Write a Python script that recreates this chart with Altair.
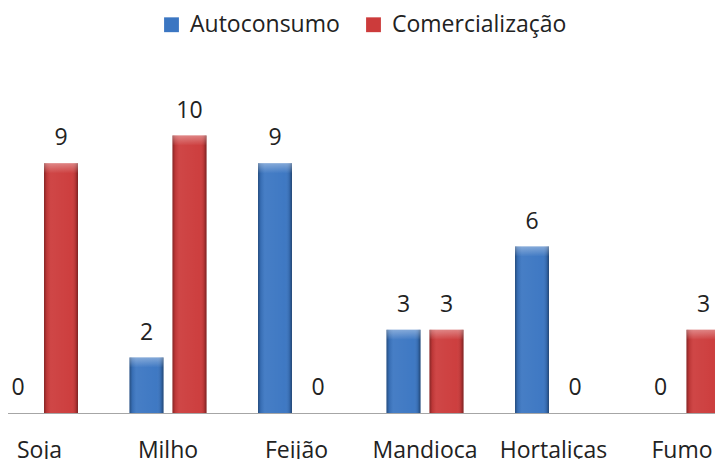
import altair as alt
import pandas as pd

categorias = ["Soja", "Milho", "Feijão", "Mandioca", "Hortaliças", "Fumo"]
series = ["Autoconsumo", "Comercialização"]
autoconsumo = [0, 2, 9, 3, 6, 0]
comercializacao = [9, 10, 0, 3, 0, 3]
cores = ["#3b76c2", "#cc3b3b"]

rows = []
for c, a, m in zip(categorias, autoconsumo, comercializacao):
    rows.append({"cat": c, "serie": series[0], "valor": a})
    rows.append({"cat": c, "serie": series[1], "valor": m})
df = pd.DataFrame(rows)

FONT = "Open Sans"

x_enc = alt.X(
    "cat:N",
    sort=categorias,
    scale=alt.Scale(range=[-32.75, 738.25], paddingInner=0.4008, paddingOuter=0.2004),
    axis=alt.Axis(
        title=None, labelAngle=0, ticks=False, domainColor="#a6a6a6", domainWidth=1,
        labelFont=FONT, labelFontSize=23, labelColor="#222222", labelPadding=26,
        grid=False,
    ),
)
xoff_enc = alt.XOffset("serie:N", sort=series, scale=alt.Scale(paddingInner=0.2093, paddingOuter=0))
y_enc = alt.Y("valor:Q", scale=alt.Scale(domain=[0, 14.6]), axis=None)

base = alt.Chart(df).encode(x=x_enc, xOffset=xoff_enc, y=y_enc)

bars = base.mark_bar().encode(
    color=alt.Color(
        "serie:N",
        sort=series,
        scale=alt.Scale(domain=series, range=cores),
        legend=alt.Legend(
            title=None, orient="none", legendX=152, legendY=5, direction="horizontal",
            labelFont=FONT, labelFontSize=23, labelColor="#222222", labelLimit=0,
            symbolType="square", symbolSize=220, symbolStrokeWidth=0,
            labelOffset=7, columnPadding=22, padding=0,
        ),
    )
)

shade = base.transform_filter("datum.valor > 0").mark_bar(
    fill=alt.Gradient(
        gradient="linear", x1=0, x2=1, y1=0, y2=0,
        stops=[
            alt.GradientStop(offset=0, color="rgba(0,0,0,0.35)"),
            alt.GradientStop(offset=0.08, color="rgba(0,0,0,0.08)"),
            alt.GradientStop(offset=0.2, color="rgba(255,255,255,0.06)"),
            alt.GradientStop(offset=0.8, color="rgba(255,255,255,0.02)"),
            alt.GradientStop(offset=0.92, color="rgba(0,0,0,0.10)"),
            alt.GradientStop(offset=1, color="rgba(0,0,0,0.40)"),
        ],
    )
)

bevel = base.transform_filter("datum.valor > 0").mark_bar(
    y2Offset=10,
    fill=alt.Gradient(
        gradient="linear", x1=0, x2=0, y1=0, y2=1,
        stops=[
            alt.GradientStop(offset=0, color="rgba(255,255,255,0.35)"),
            alt.GradientStop(offset=1, color="rgba(255,255,255,0)"),
        ],
    ),
).encode(y2=alt.Y2("valor:Q"))

labels = base.mark_text(
    dy=-18, baseline="alphabetic", align="center", font=FONT, fontSize=23, color="#222222"
).encode(text="valor:Q")

chart = (
    alt.layer(bars, shade, bevel, labels)
    .properties(
        width=707, height=405,
        autosize=alt.AutoSizeParams(type="none"),
        padding={"left": 0, "top": 0, "right": 0, "bottom": 46},
    )
    .configure_view(stroke=None)
)

chart.save("out.html", embed_options={"renderer": "svg", "actions": False})
